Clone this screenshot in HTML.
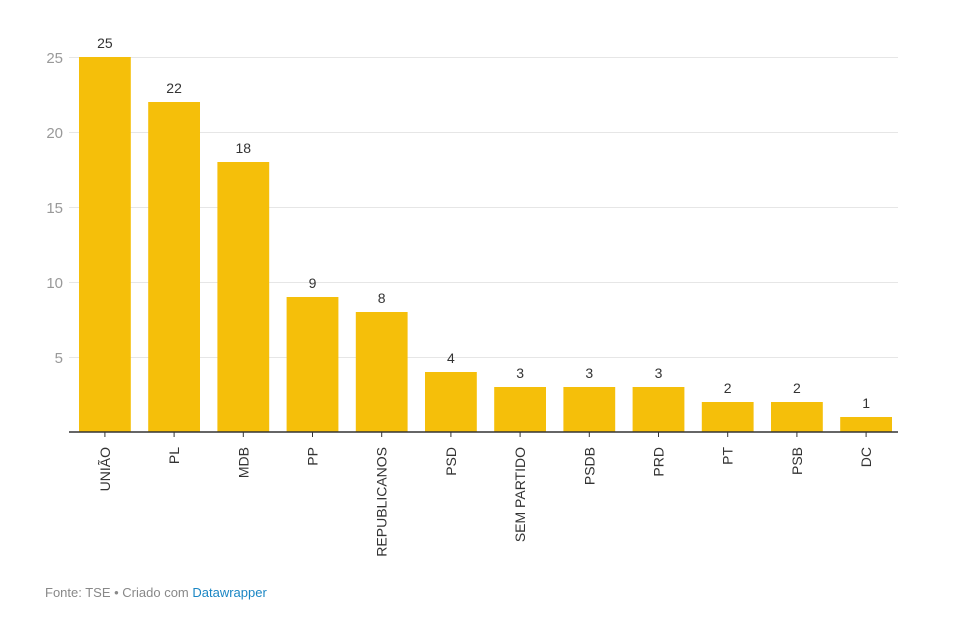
<!DOCTYPE html>
<html><head><meta charset="utf-8"><style>
body{margin:0;background:#fff;}
svg{display:block;font-family:"Liberation Sans",sans-serif;}
</style></head><body>
<svg width="960" height="640" viewBox="0 0 960 640">
<g stroke="#e6e6e6" stroke-width="1">
<line x1="69" x2="898" y1="57.5" y2="57.5"/>
<line x1="69" x2="898" y1="132.5" y2="132.5"/>
<line x1="69" x2="898" y1="207.5" y2="207.5"/>
<line x1="69" x2="898" y1="282.5" y2="282.5"/>
<line x1="69" x2="898" y1="357.5" y2="357.5"/>
</g>
<g fill="#999" font-size="15" text-anchor="end">
<text x="63" y="63">25</text>
<text x="63" y="138">20</text>
<text x="63" y="213">15</text>
<text x="63" y="288">10</text>
<text x="63" y="363">5</text>
</g>
<g id="bars" fill="#f5bf0a"></g>
<g id="vals" fill="#333" font-size="14" text-anchor="middle"></g>
<line x1="69" x2="898" y1="432" y2="432" stroke="#333" stroke-width="1.5"/>
<g id="ticks" stroke="#333" stroke-width="1"></g>
<g id="labs" fill="#333" font-size="14" text-anchor="end"></g>
<text x="45" y="597" font-size="13" fill="#888">Fonte: TSE • Criado com <tspan fill="#1a86c4">Datawrapper</tspan></text>
</svg>
<script>
var d=[["UNIÃO",25],["PL",22],["MDB",18],["PP",9],["REPUBLICANOS",8],["PSD",4],["SEM PARTIDO",3],["PSDB",3],["PRD",3],["PT",2],["PSB",2],["DC",1]];
var ns="http://www.w3.org/2000/svg";
function el(t,a,p,txt){var e=document.createElementNS(ns,t);for(var k in a)e.setAttribute(k,a[k]);if(txt!=null)e.textContent=txt;document.getElementById(p).appendChild(e);}
d.forEach(function(r,i){
 var x=79+i*69.2, w=51.8, cx=x+w/2, h=r[1]*15;
 el("rect",{x:x,y:432-h,width:w,height:h},"bars");
 el("text",{x:cx,y:432-h-9},"vals",r[1]);
 el("line",{x1:cx,x2:cx,y1:432,y2:437},"ticks");
 el("text",{x:0,y:0,transform:"translate("+(cx+5)+",447) rotate(-90)"},"labs",r[0]);
});
</script>
</body></html>
